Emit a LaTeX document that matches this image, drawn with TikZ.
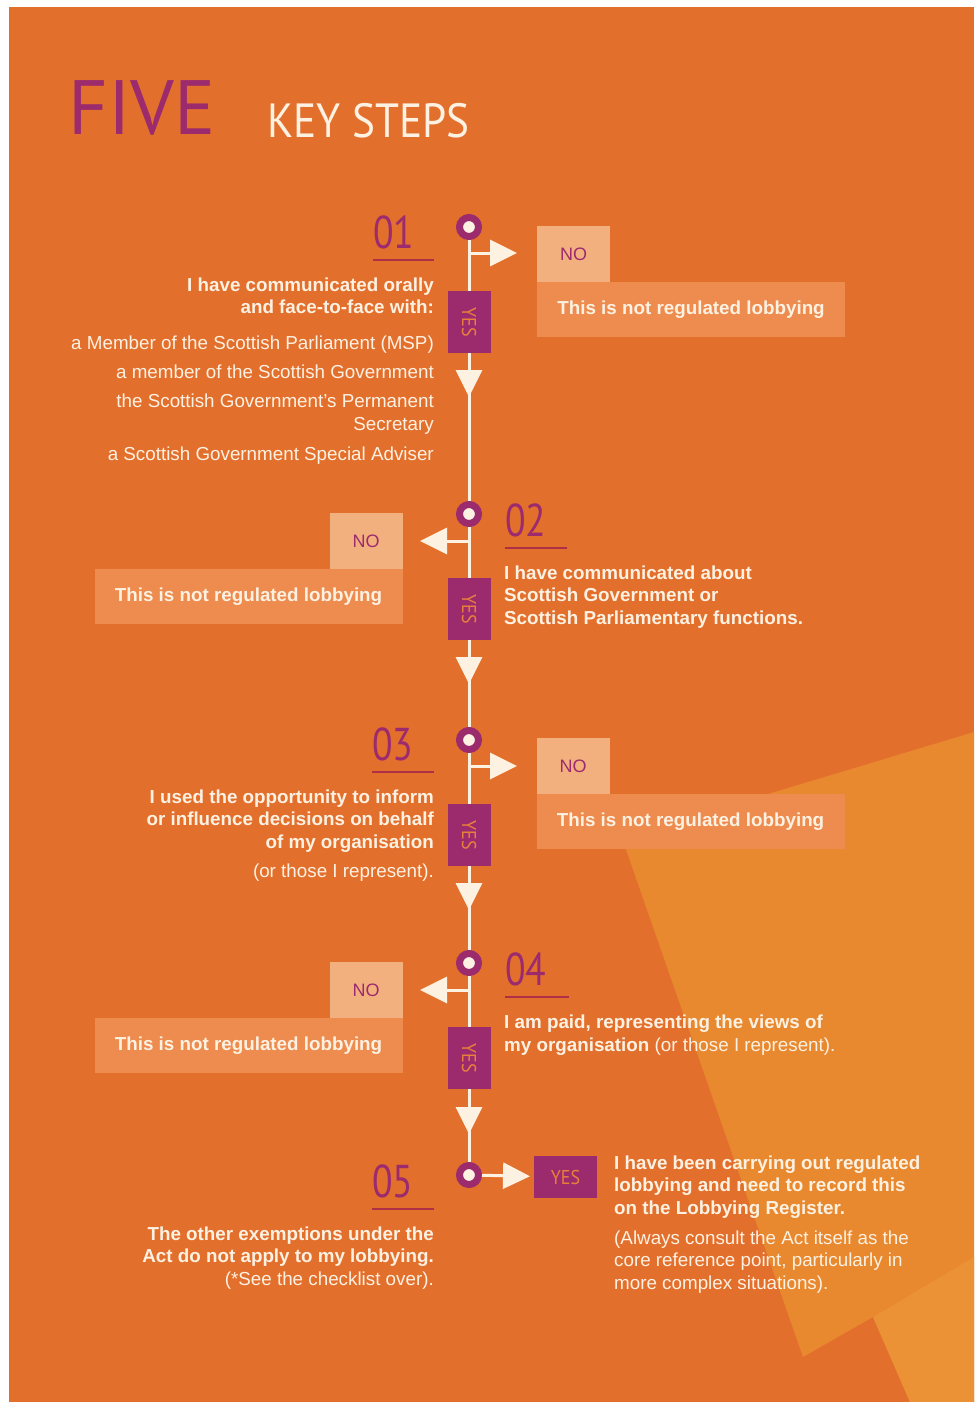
\documentclass[tikz,border=0pt]{standalone}
\usepackage{graphicx}
\usepackage{fontspec}
\setmainfont{Liberation Sans}
\newfontfamily\bigfont{PT Sans}
\newfontfamily\headfont[FakeStretch=0.9]{PT Sans}
\newfontfamily\numfont[FakeStretch=0.82]{PT Sans}
\usepackage{tikz}
\usetikzlibrary{positioning,arrows.meta}

\definecolor{bgorange}{HTML}{E36F2D}
\definecolor{lightorange}{HTML}{E8882F}
\definecolor{paleorange}{HTML}{EB9236}
\definecolor{plum}{HTML}{9C2B6E}
\definecolor{rulered}{HTML}{AE3046}
\definecolor{cream}{HTML}{FDF1E2}
\definecolor{nofill}{HTML}{F3B07F}
\definecolor{notfill}{HTML}{EE8B4E}
\definecolor{yestext}{HTML}{E8803C}

\tikzset{
  link/.style={draw=cream, line width=3pt},
  tip/.style={-{Triangle[length=27pt,width=26pt]}},
  ring/.style={circle, draw=plum, fill=cream, line width=7pt, minimum size=19pt, inner sep=0pt},
  yesbox/.style={fill=plum, minimum width=43pt, minimum height=62pt, inner sep=0pt, outer sep=0pt,
    text=yestext, font=\headfont\fontsize{20}{20}\selectfont},
  nobox/.style={fill=nofill, text=plum, minimum width=73pt, minimum height=56pt, inner sep=0pt,
    outer sep=0pt, font=\fontsize{18}{20}\selectfont},
  notbox/.style={fill=notfill, text=cream, minimum width=308pt, minimum height=55pt, inner sep=0pt,
    outer sep=0pt, font=\bfseries\fontsize{18.8}{20}\selectfont},
  stepnum/.style={anchor=base west, inner sep=0pt, text=plum, font=\numfont\fontsize{46}{46}\selectfont},
  uline/.style={draw=rulered, line width=2pt},
  ltext/.style={anchor=base east, align=right, inner sep=0pt, text=cream, font=\fontsize{18.8}{22.5}\selectfont},
  rtext/.style={anchor=base west, align=left, inner sep=0pt, text=cream, font=\fontsize{18.8}{22.5}\selectfont},
}

\begin{document}
\begin{tikzpicture}[x=1pt,y=-1pt]
    \useasboundingbox (0,0) rectangle (974,1402);
    \fill[white] (0,0) rectangle (974,1402);
    \fill[bgorange] (9,7) rectangle (974,1402);
    \fill[lightorange] (974,732) -- (622,838) -- (803,1357) -- (873,1317) -- (910,1402) -- (974,1402) -- cycle;
    \fill[paleorange] (974,1257) -- (873,1317) -- (910,1402) -- (974,1402) -- cycle;

    \node[anchor=base west, inner sep=0pt, text=plum, font=\bigfont\fontsize{77}{77}\selectfont] (five) at (68,135) {FIVE};
    \node[anchor=base west, inner sep=0pt, text=cream, font=\headfont\fontsize{48}{48}\selectfont] (keysteps) at (267,138) {KEY STEPS};

    \node[ring] (c1) at (469,227) {};
    \node[ring] (c2) at (469,514) {};
    \node[ring] (c3) at (469,740) {};
    \node[ring] (c4) at (469,963) {};
    \node[ring] (c5) at (469,1175) {};

    \node[yesbox] (yes1) at (469,322) {\rotatebox{-90}{YES}};
    \node[yesbox] (yes2) at (469,609) {\rotatebox{-90}{YES}};
    \node[yesbox] (yes3) at (469,835) {\rotatebox{-90}{YES}};
    \node[yesbox] (yes4) at (469,1058) {\rotatebox{-90}{YES}};
    \node[yesbox, minimum width=63pt, minimum height=42pt] (yes5) at (565.5,1177) {YES};

    \coordinate (d1) at (469,397);
    \coordinate (d2) at (469,684);
    \coordinate (d3) at (469,910);
    \coordinate (d4) at (469,1134);
    \draw[link] (c1) -- (yes1);
    \draw[link] (yes1) -- (c2);
    \draw[link,tip] (yes1.south) -- (d1);
    \draw[link] (c2) -- (yes2);
    \draw[link] (yes2) -- (c3);
    \draw[link,tip] (yes2.south) -- (d2);
    \draw[link] (c3) -- (yes3);
    \draw[link] (yes3) -- (c4);
    \draw[link,tip] (yes3.south) -- (d3);
    \draw[link] (c4) -- (yes4);
    \draw[link] (yes4) -- (c5);
    \draw[link,tip] (yes4.south) -- (d4);
    \draw[link,tip,shorten >=4pt] (c5) -- (yes5);

    \coordinate (b1) at (469,253);
    \coordinate (r1) at (517,253);
    \coordinate (b2) at (469,541);
    \coordinate (r2) at (420,541);
    \coordinate (b3) at (469,766);
    \coordinate (r3) at (517,766);
    \coordinate (b4) at (469,990);
    \coordinate (r4) at (420,990);
    \draw[link,tip] (b1) -- (r1);
    \draw[link,tip] (b2) -- (r2);
    \draw[link,tip] (b3) -- (r3);
    \draw[link,tip] (b4) -- (r4);

    \node[notbox] (not1) at (691,309.5) {This is not regulated lobbying};
    \node[nobox, anchor=south west] (no1) at (not1.north west) {NO};
    \node[notbox] (not2) at (248.5,596.5) {This is not regulated lobbying};
    \node[nobox, anchor=south east] (no2) at (not2.north east) {NO};
    \node[notbox] (not3) at (690.5,821.5) {This is not regulated lobbying};
    \node[nobox, anchor=south west] (no3) at (not3.north west) {NO};
    \node[notbox] (not4) at (248.5,1045.5) {This is not regulated lobbying};
    \node[nobox, anchor=south east] (no4) at (not4.north east) {NO};

    \node[stepnum] (n1) at (373,248) {01};
    \node[stepnum] (n2) at (505,536) {02};
    \node[stepnum] (n3) at (372,760) {03};
    \node[stepnum] (n4) at (505,985) {04};
    \node[stepnum] (n5) at (372,1197) {05};
    \draw[uline] (373,260) -- (434,260);
    \draw[uline] (505,548) -- (567,548);
    \draw[uline] (372,772) -- (434,772);
    \draw[uline] (505,997) -- (569,997);
    \draw[uline] (372,1209) -- (434,1209);

    \node[ltext, font=\bfseries\fontsize{18.8}{22}\selectfont] (q1) at (434,313) {I have communicated orally\\and face-to-face with:};
    \node[ltext] (q1a) at (434,349) {a Member of the Scottish Parliament (MSP)};
    \node[ltext] (q1b) at (434,378) {a member of the Scottish Government};
    \node[ltext, font=\fontsize{18.8}{23}\selectfont] (q1c) at (434,430) {the Scottish Government’s Permanent\\Secretary};
    \node[ltext] (q1d) at (434,460) {a Scottish Government Special Adviser};

    \node[rtext, font=\bfseries\fontsize{18.8}{22.5}\selectfont] (q2) at (504,624) {I have communicated about\\Scottish Government or\\Scottish Parliamentary functions.};

    \node[ltext, font=\bfseries\fontsize{18.8}{22.5}\selectfont] (q3) at (434,848) {I used the opportunity to inform\\or influence decisions on behalf\\of my organisation};
    \node[ltext] (q3a) at (434,877) {(or those I represent).};

    \node[rtext] (q4) at (504,1051) {\textbf{I am paid, representing the views of}\\\textbf{my organisation} (or those I represent).};

    \node[ltext] (q5) at (434,1285) {\textbf{The other exemptions under the}\\\textbf{Act do not apply to my lobbying.}\\(*See the checklist over).};
    \node[rtext, font=\bfseries\fontsize{18.8}{22.5}\selectfont] (q6) at (614,1214) {I have been carrying out regulated\\lobbying and need to record this\\on the Lobbying Register.};
    \node[rtext] (q6a) at (614,1289) {(Always consult the Act itself as the\\core reference point, particularly in\\more complex situations).};
    %\draw[link] (c5) -- (yes5);
\end{tikzpicture}
\end{document}
